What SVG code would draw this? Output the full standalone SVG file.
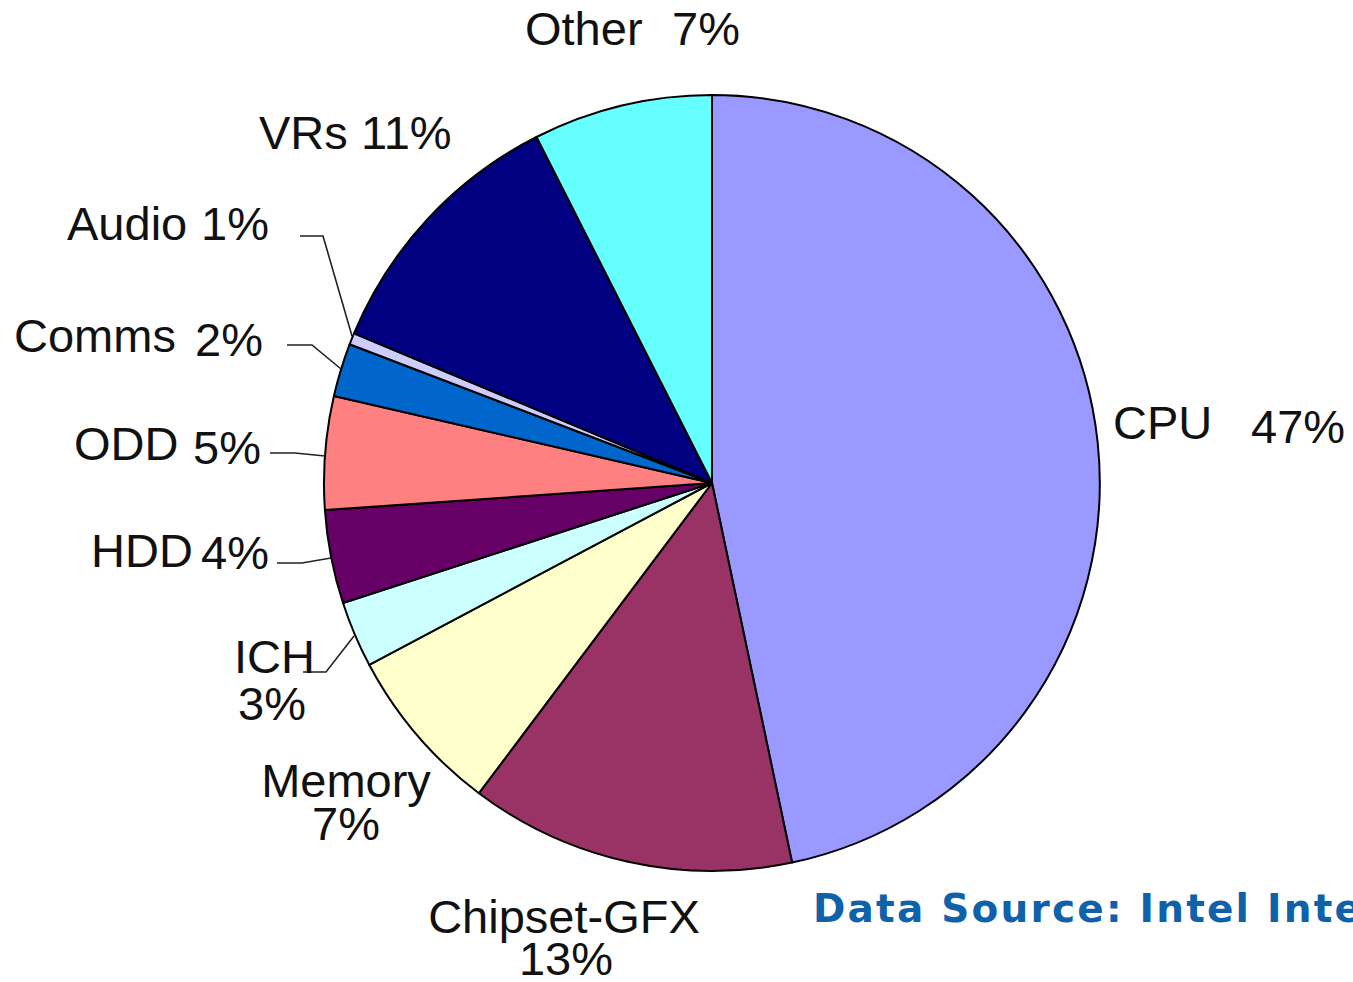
<svg xmlns="http://www.w3.org/2000/svg" width="1353" height="982" viewBox="0 0 1353 982">
<style>
.s{stroke:#000;stroke-width:2;stroke-linejoin:round}
.t{font-family:"Liberation Sans",Arial,sans-serif;font-size:47px;fill:#111}
.m{text-anchor:middle}
.l{fill:none;stroke:#222;stroke-width:1.6}
.src{font-family:"DejaVu Sans",Verdana,sans-serif;font-weight:bold;font-size:39px;letter-spacing:2.2px;fill:#0F62AA}
</style>
<rect width="1353" height="982" fill="#fff"/>
<g id="slices">
<g id="cpu"><path class="s" fill="#9999FF" d="M712,483 L712,95 A388,388 0 0 1 792.1,862.6 Z"/></g>
<g id="chipset"><path class="s" fill="#993366" d="M712,483 L792.1,862.6 A388,388 0 0 1 478.9,793.2 Z"/></g>
<g id="memory"><path class="s" fill="#FFFFCC" d="M712,483 L478.9,793.2 A388,388 0 0 1 369.2,664.8 Z"/></g>
<g id="ich"><path class="s" fill="#CCFFFF" d="M712,483 L369.2,664.8 A388,388 0 0 1 343,603 Z"/></g>
<g id="hdd"><path class="s" fill="#660066" d="M712,483 L343,603 A388,388 0 0 1 324.9,510.1 Z"/></g>
<g id="odd"><path class="s" fill="#FF8080" d="M712,483 L324.9,510.1 A388,388 0 0 1 333.9,396 Z"/></g>
<g id="comms"><path class="s" fill="#0066CC" d="M712,483 L333.9,396 A388,388 0 0 1 349.6,344.3 Z"/></g>
<g id="audio"><path class="s" fill="#CCCCFF" d="M712,483 L349.6,344.3 A388,388 0 0 1 354,333.4 Z"/></g>
<g id="vrs"><path class="s" fill="#000080" d="M712,483 L354,333.4 A388,388 0 0 1 536.5,137 Z"/></g>
<g id="other"><path class="s" fill="#66FFFF" d="M712,483 L536.5,137 A388,388 0 0 1 712,95 Z"/></g>
</g>
<g id="connectors">
<polyline class="l" points="300,236 323,236 352,336"/>
<polyline class="l" points="287,345 312,345 341,369"/>
<polyline class="l" points="270,453 295,453 325,456"/>
<polyline class="l" points="277,563 302,563 331,558"/>
<polyline class="l" points="303,672 326,672 354,636"/>
</g>
<g id="labels">
<text class="t" x="525" y="45">Other</text><text class="t" x="672" y="45">7%</text>
<text class="t" x="259" y="149">VRs</text><text class="t" x="361" y="149">11%</text>
<text class="t" x="67" y="240">Audio</text><text class="t" x="201" y="240">1%</text>
<text class="t" x="14" y="352">Comms</text><text class="t" x="195" y="356">2%</text>
<text class="t" x="74" y="460">ODD</text><text class="t" x="193" y="464">5%</text>
<text class="t" x="91" y="567">HDD</text><text class="t" x="201" y="569">4%</text>
<text class="t" x="234" y="673">ICH</text><text class="t" x="238" y="720">3%</text>
<text class="t m" x="346" y="797">Memory</text><text class="t m" x="346" y="840">7%</text>
<text class="t m" x="564" y="933">Chipset-GFX</text><text class="t m" x="566" y="975">13%</text>
<text class="t" x="1113" y="439">CPU</text><text class="t" x="1251" y="443">47%</text>
</g>
<text class="src" x="813" y="922">Data Source: Intel Inte</text>
</svg>
